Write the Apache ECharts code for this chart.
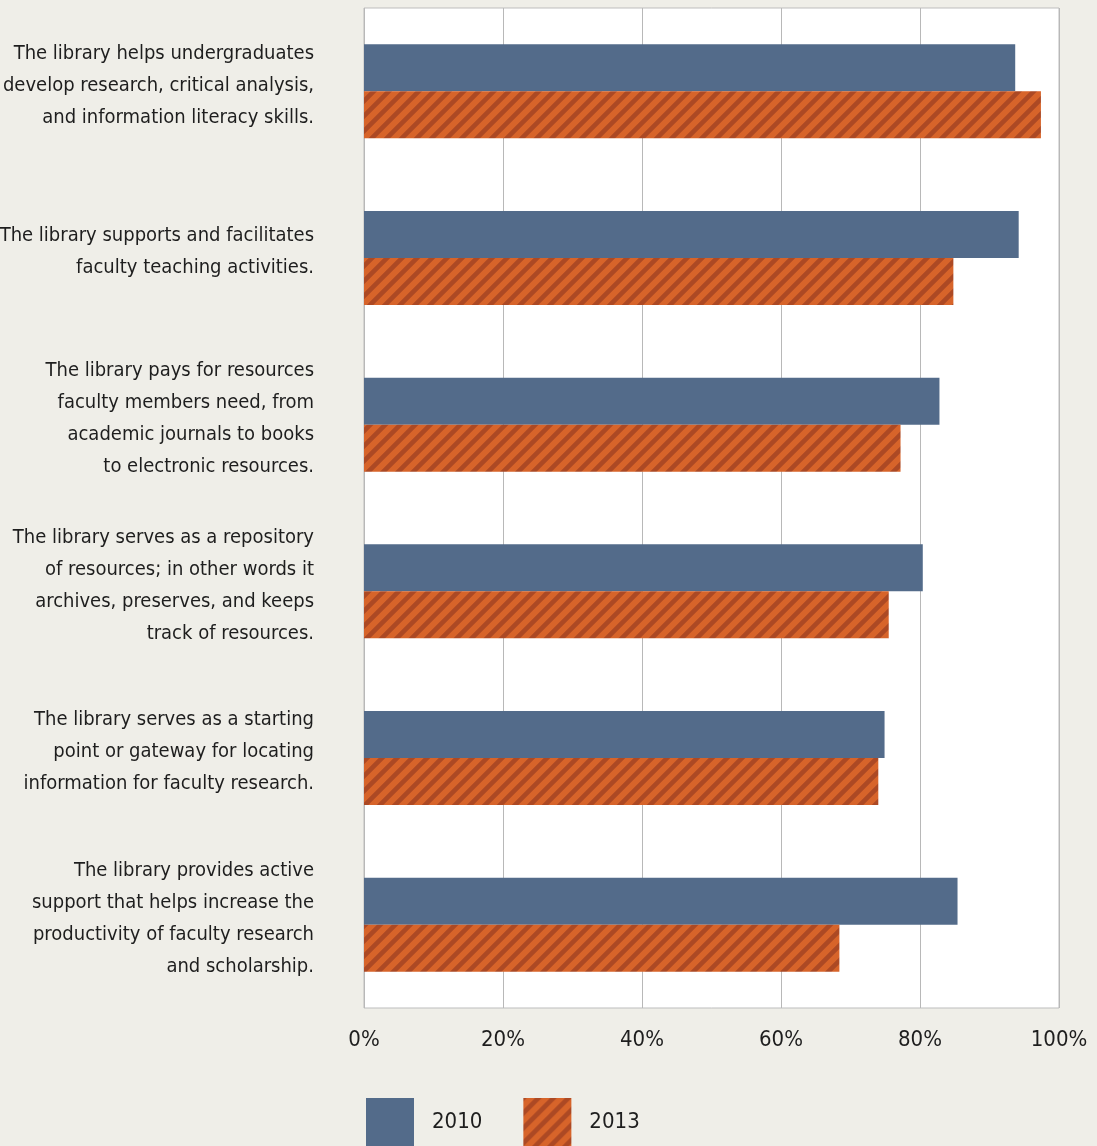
<!DOCTYPE html>
<html>
<head>
<meta charset="utf-8">
<script src="https://cdn.jsdelivr.net/npm/echarts@6/dist/echarts.min.js"></script>
<style>
html,body{margin:0;padding:0;background:#efeee8;}
#c{width:1097px;height:1146px;}
</style>
</head>
<body>
<div id="c"></div>
<script>
const categories = [
  "The library helps undergraduates\ndevelop research, critical analysis,\nand information literacy skills.",
  "The library supports and facilitates\nfaculty teaching activities.",
  "The library pays for resources\nfaculty members need, from\nacademic journals to books\nto electronic resources.",
  "The library serves as a repository\nof resources; in other words it\narchives, preserves, and keeps\ntrack of resources.",
  "The library serves as a starting\npoint or gateway for locating\ninformation for faculty research.",
  "The library provides active\nsupport that helps increase the\nproductivity of faculty research\nand scholarship."
];
const values2010 = [93.7, 94.2, 82.8, 80.4, 74.9, 85.4];
const values2013 = [97.4, 84.8, 77.2, 75.5, 74.0, 68.4];
const seriesNames = ["2010", "2013"];
const xTicks = [0, 20, 40, 60, 80, 100];

const FONT = '"Liberation Sans Narrow","DejaVu Sans Condensed","Roboto Condensed",sans-serif';

function makeHatch() {
  const s = 15;
  const cv = document.createElement('canvas');
  cv.width = s; cv.height = s;
  const ctx = cv.getContext('2d');
  ctx.fillStyle = '#d7642a';
  ctx.fillRect(0, 0, s, s);
  ctx.strokeStyle = '#ac4924';
  ctx.lineWidth = 4.6;
  ctx.beginPath();
  for (let k = -1; k <= 1; k++) {
    ctx.moveTo(-2 + k * s, s + 2);
    ctx.lineTo(s + 2 + k * s, -2);
  }
  ctx.stroke();
  return cv;
}
const hatch = { image: makeHatch(), repeat: 'repeat' };

const chart = echarts.init(document.getElementById('c'), null, { renderer: 'canvas' });
chart.setOption({
  backgroundColor: '#efeee8',
  animation: false,
  grid: { left: 364, right: 38, top: 8, bottom: 138, containLabel: false, outerBoundsMode: 'none',
          show: true, backgroundColor: '#ffffff', borderColor: '#bdbdbd', borderWidth: 1 },
  legend: {
    left: 361, top: 1093,
    itemWidth: 48, itemHeight: 48, itemGap: 41,
    icon: 'rect',
    itemStyle: { borderWidth: 0 },
    textStyle: { fontFamily: FONT, fontSize: 22, color: '#1e1e1e', padding: [0, 0, 0, 13] },
    data: seriesNames
  },
  xAxis: {
    type: 'value', min: 0, max: 100, interval: 20,
    axisLine: { show: false }, axisTick: { show: false },
    splitLine: { show: true, lineStyle: { color: '#b8b8b8', width: 1 } },
    axisLabel: { formatter: v => xTicks.includes(v) ? v + '%' : '', fontFamily: FONT, fontSize: 22, color: '#1e1e1e', margin: 21 }
  },
  yAxis: {
    type: 'category', data: categories, inverse: true,
    axisLine: { show: false }, axisTick: { show: false },
    axisLabel: {
      fontFamily: FONT, fontSize: 20, color: '#1e1e1e', lineHeight: 32, margin: 50, align: 'right',
      formatter: v => v.split('\n').map(l => '{a|' + l + '}').join('\n') + '\n{b| }',
      rich: {
        a: { fontFamily: FONT, fontSize: 20, color: '#1e1e1e', lineHeight: 32, align: 'right' },
        b: { fontFamily: FONT, fontSize: 8, lineHeight: 12, align: 'right' }
      }
    }
  },
  series: [
    { name: seriesNames[0], type: 'bar', data: values2010, barGap: '0%', barCategoryGap: '43.6%',
      itemStyle: { color: '#536b8a' } },
    { name: seriesNames[1], type: 'bar', data: values2013, barGap: '0%', barCategoryGap: '43.6%',
      itemStyle: { color: hatch } }
  ]
});
</script>
</body>
</html>
